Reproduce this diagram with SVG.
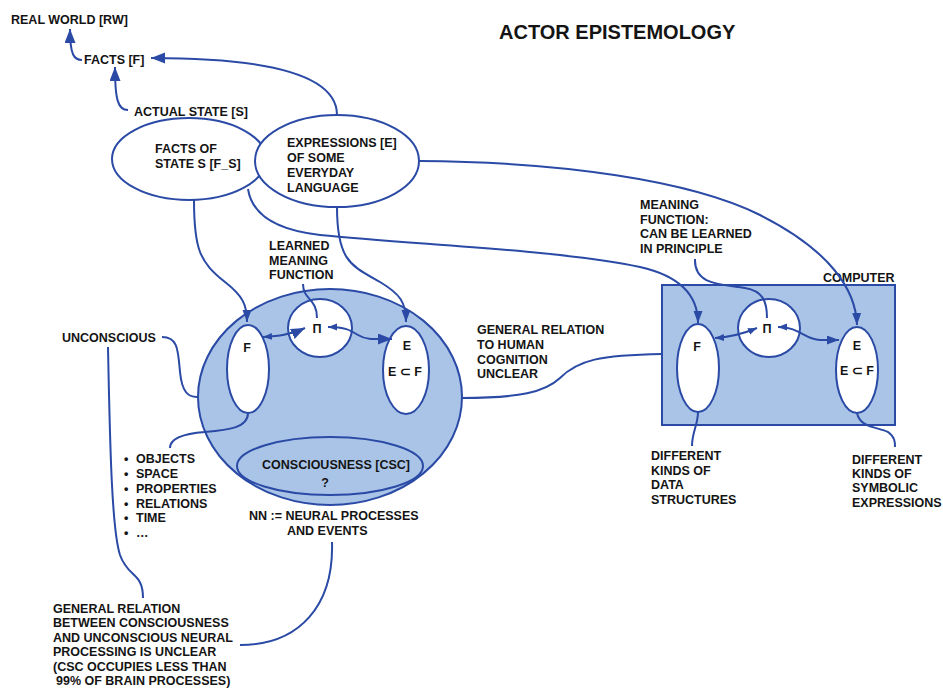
<svg xmlns="http://www.w3.org/2000/svg" width="943" height="691" viewBox="0 0 943 691">
<defs>
<style>
text{font-family:"Liberation Sans",Arial,sans-serif;font-weight:700;font-size:12.5px;fill:#141414}
.title{font-size:20px}
.ln{fill:none;stroke:#2a4aa5;stroke-width:2}
.sh{stroke:#2a4aa5;stroke-width:2}
.blue{fill:#aac4e8}
.white{fill:#fff}
.mid{text-anchor:middle}
</style>
<marker id="big" markerUnits="userSpaceOnUse" markerWidth="15" markerHeight="12" refX="14" refY="5.5" orient="auto"><path d="M0,0 L14,5.5 L0,11 z" fill="#2a4aa5"/></marker>
<marker id="med" markerUnits="userSpaceOnUse" markerWidth="13" markerHeight="10" refX="12" refY="4.5" orient="auto-start-reverse"><path d="M0,0 L12,4.5 L0,9 z" fill="#2a4aa5"/></marker>
<marker id="small" markerUnits="userSpaceOnUse" markerWidth="10" markerHeight="8" refX="9" refY="3.5" orient="auto-start-reverse"><path d="M0,0 L9,3.5 L0,7 z" fill="#2a4aa5"/></marker>
</defs>

<text class="title" x="499" y="39">ACTOR EPISTEMOLOGY</text>

<g id="real-world"><text x="11" y="24">REAL WORLD [RW]</text></g>
<g id="facts"><text x="84" y="64">FACTS [F]</text></g>
<g id="actual-state"><text x="134" y="116">ACTUAL STATE [S]</text></g>

<g id="facts-of-state">
<ellipse class="sh white" cx="189" cy="159" rx="77" ry="41"/>
<text x="155" y="153">FACTS OF</text>
<text x="155" y="168">STATE S [F_S]</text>
</g>
<g id="expressions">
<ellipse class="sh white" cx="337" cy="161" rx="82" ry="46"/>
<text x="287" y="147">EXPRESSIONS [E]</text>
<text x="287" y="162">OF SOME</text>
<text x="287" y="177">EVERYDAY</text>
<text x="287" y="192">LANGUAGE</text>
</g>

<g id="brain">
<ellipse class="sh blue" cx="330" cy="397" rx="132" ry="108"/>
</g>
<g id="brain-f">
<ellipse class="sh white" cx="248" cy="369" rx="21" ry="44"/>
<text class="mid" x="247" y="352">F</text>
</g>
<g id="brain-pi">
<ellipse class="sh white" cx="320" cy="328" rx="32" ry="29"/>
<text class="mid" x="317" y="333">Π</text>
</g>
<g id="brain-e">
<ellipse class="sh white" cx="406" cy="370" rx="23" ry="44"/>
<text class="mid" x="407" y="350">E</text>
<text class="mid" x="405" y="376">E ⊂ F</text>
</g>
<g id="consciousness">
<ellipse class="sh blue" cx="330" cy="466" rx="93" ry="29"/>
<text class="mid" x="336" y="469">CONSCIOUSNESS [CSC]</text>
<text class="mid" x="325" y="487">?</text>
</g>

<g id="computer">
<rect class="sh blue" x="662" y="285" width="233" height="140"/>
<text x="823" y="282">COMPUTER</text>
</g>
<g id="computer-f">
<ellipse class="sh white" cx="698" cy="368" rx="21" ry="44"/>
<text class="mid" x="697" y="351">F</text>
</g>
<g id="computer-pi">
<ellipse class="sh white" cx="769" cy="328" rx="31" ry="29"/>
<text class="mid" x="767" y="333">Π</text>
</g>
<g id="computer-e">
<ellipse class="sh white" cx="857" cy="370" rx="21" ry="43"/>
<text class="mid" x="857" y="350">E</text>
<text class="mid" x="857" y="375">E ⊂ F</text>
</g>

<g id="learned-meaning">
<text x="269" y="250">LEARNED</text>
<text x="269" y="265">MEANING</text>
<text x="269" y="279">FUNCTION</text>
</g>
<g id="meaning-function">
<text x="640" y="209">MEANING</text>
<text x="640" y="224">FUNCTION:</text>
<text x="640" y="238">CAN BE LEARNED</text>
<text x="640" y="253">IN PRINCIPLE</text>
</g>
<g id="unconscious"><text x="62" y="342">UNCONSCIOUS</text></g>
<g id="categories">
<text x="124" y="463">•</text><text x="136" y="463">OBJECTS</text>
<text x="124" y="478">•</text><text x="136" y="478">SPACE</text>
<text x="124" y="493">•</text><text x="136" y="493">PROPERTIES</text>
<text x="124" y="508">•</text><text x="136" y="508">RELATIONS</text>
<text x="124" y="522">•</text><text x="136" y="522">TIME</text>
<text x="124" y="537">•</text><text x="136" y="537">…</text>
</g>
<g id="neural">
<text x="249" y="520">NN := NEURAL PROCESSES</text>
<text x="287" y="535">AND EVENTS</text>
</g>
<g id="general-relation-csc">
<text x="53" y="613">GENERAL RELATION</text>
<text x="53" y="627">BETWEEN CONSCIOUSNESS</text>
<text x="53" y="642">AND UNCONSCIOUS NEURAL</text>
<text x="53" y="656">PROCESSING IS UNCLEAR</text>
<text x="53" y="671">(CSC OCCUPIES LESS THAN</text>
<text x="56" y="685">99% OF BRAIN PROCESSES)</text>
</g>
<g id="general-relation-human">
<text x="477" y="334">GENERAL RELATION</text>
<text x="477" y="349">TO HUMAN</text>
<text x="477" y="364">COGNITION</text>
<text x="477" y="378">UNCLEAR</text>
</g>
<g id="data-structures">
<text x="651" y="460">DIFFERENT</text>
<text x="651" y="475">KINDS OF</text>
<text x="651" y="489">DATA</text>
<text x="651" y="504">STRUCTURES</text>
</g>
<g id="symbolic-expressions">
<text x="852" y="464">DIFFERENT</text>
<text x="852" y="478">KINDS OF</text>
<text x="852" y="492">SYMBOLIC</text>
<text x="852" y="507">EXPRESSIONS</text>
</g>

<g id="connectors">
<path class="ln" marker-end="url(#big)" d="M82,60 C74,60 70,55 70,29"/>
<path class="ln" marker-end="url(#big)" d="M128,110 C118,110 115,100 115,67"/>
<path class="ln" marker-end="url(#big)" d="M337,115 C337,70 250,58 151,58"/>
<path class="ln" marker-end="url(#med)" d="M194,200 C194,250 200,262 225,282 C243,296 247,305 247,322"/>
<path class="ln" marker-end="url(#med)" d="M337,207 C337,262 352,266 380,282 C400,294 406,302 406,322"/>
<path class="ln" marker-end="url(#med)" d="M248,189 C252,215 275,230 320,235 C420,245 560,250 640,267 C680,276 698,295 698,323"/>
<path class="ln" marker-end="url(#med)" d="M419,161 C560,162 690,180 760,215 C830,250 856,290 857,325"/>
<path class="ln" marker-start="url(#small)" marker-end="url(#big)" d="M263,337 C278,336 290,335 305,328"/>
<path class="ln" marker-start="url(#small)" marker-end="url(#big)" d="M328,327 C345,327 350,330 358,335 C366,340 375,339 392,339"/>
<path class="ln" marker-start="url(#small)" marker-end="url(#small)" d="M715,338 C732,337 745,333 757,328"/>
<path class="ln" marker-start="url(#small)" marker-end="url(#med)" d="M778,327 C800,327 805,340 820,340 L839,340"/>
<path class="ln" d="M303,284 C303,300 317,298 317,318"/>
<path class="ln" d="M695,259 C694,285 720,284 745,288 C762,291 767,300 767,318"/>
<path class="ln" d="M162,337 C178,337 178,350 180,372 C182,392 188,397 197,397"/>
<path class="ln" d="M108,347 C110,450 112,530 120,555 C128,578 143,572 143,598"/>
<path class="ln" d="M248,413 C248,428 228,430 205,432 C178,434 170,440 170,448"/>
<path class="ln" d="M332,542 C334,605 300,645 240,645"/>
<path class="ln" d="M462,398 C520,398 545,392 560,378 C578,360 600,355 662,354"/>
<path class="ln" d="M698,412 C698,425 692,432 692,446"/>
<path class="ln" d="M857,413 C860,428 878,427 888,432 C895,437 895,442 895,447"/>
</g>
</svg>
